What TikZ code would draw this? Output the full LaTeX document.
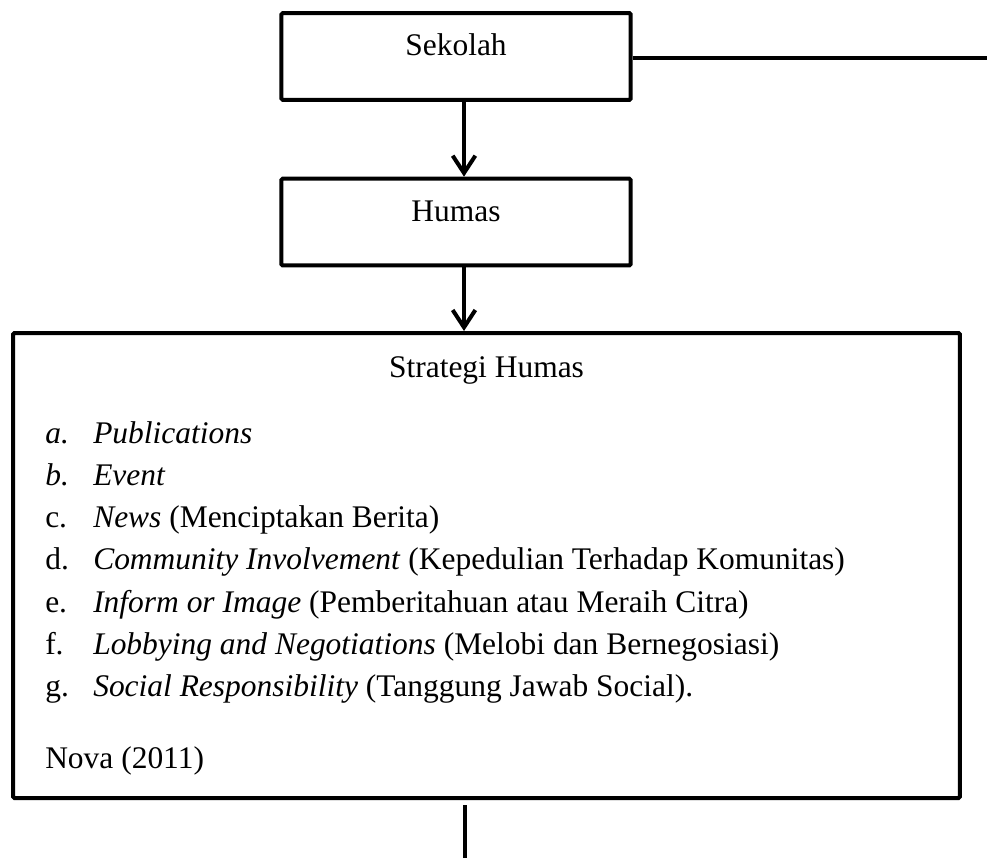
\documentclass[tikz,border=0pt]{standalone}
\usepackage{fontspec}
\setmainfont{Liberation Serif}
\usetikzlibrary{arrows.meta,positioning}
\tikzset{kotak/.style={draw=black,line width=3pt,rounded corners=1pt,inner sep=0pt,text height=32pt,text depth=33pt,minimum width=262pt,font=\fontsize{23.6pt}{31.7pt}\selectfont}}
\tikzset{kotakbesar/.style={draw=black,line width=3pt,rounded corners=1pt,inner sep=0pt,minimum width=710pt,minimum height=348.75pt}}
\tikzset{teks/.style={anchor=base west,inner sep=0pt,font=\fontsize{23.6pt}{31.7pt}\selectfont}}
\tikzset{panah/.style={line width=3pt,-{Straight Barb[length=13pt,width=17pt]}}}
\tikzset{garis/.style={line width=3pt}}

\begin{document}
\begin{tikzpicture}[x=0.75pt,y=-0.75pt]
\useasboundingbox (0,0) rectangle (987,858);
\node [kotak] at (456,56.5) (sekolah) {Sekolah};
\node [kotak] at (456,222) (humas) {Humas};
\node [kotakbesar] at (486.5,565.5) (strategi) {};

\node [teks,anchor=base] at (486.5,377) (judul) {Strategi Humas};
\node [teks] at (45,443) (ia) {\makebox[36pt][l]{\textit{a.}}\textit{Publications}};
\node [teks] at (45,485.3) (ib) {\makebox[36pt][l]{\textit{b.}}\textit{Event}};
\node [teks] at (45,527.6) (ic) {\makebox[36pt][l]{c.}\textit{News} (Menciptakan Berita)};
\node [teks] at (45,569.9) (id) {\makebox[36pt][l]{d.}\textit{Community Involvement} (Kepedulian Terhadap Komunitas)};
\node [teks] at (45,612.2) (ie) {\makebox[36pt][l]{e.}\textit{Inform or Image} (Pemberitahuan atau Meraih Citra)};
\node [teks] at (45,654.5) (if) {\makebox[36pt][l]{f.}\textit{Lobbying and Negotiations} (Melobi dan Bernegosiasi)};
\node [teks] at (45,696.8) (ig) {\makebox[36pt][l]{g.}\textit{Social Responsibility} (Tanggung Jawab Social).};
\node [teks] at (45,768) (sumber) {Nova (2011)};

% penghubung
\coordinate (kanan) at (987,58);
\coordinate (atas) at (465,805);
\coordinate (ujung) at (465,858);
\draw [garis] (sekolah.east |- kanan) -- (kanan);
\draw [panah] ([xshift=6pt]sekolah.south) -- ([xshift=6pt]humas.north);
\draw [panah] ([xshift=6pt]humas.south) -- ([xshift=6pt]humas.south |- strategi.north);
\draw [garis] (atas) -- (ujung);
\end{tikzpicture}
\end{document}
